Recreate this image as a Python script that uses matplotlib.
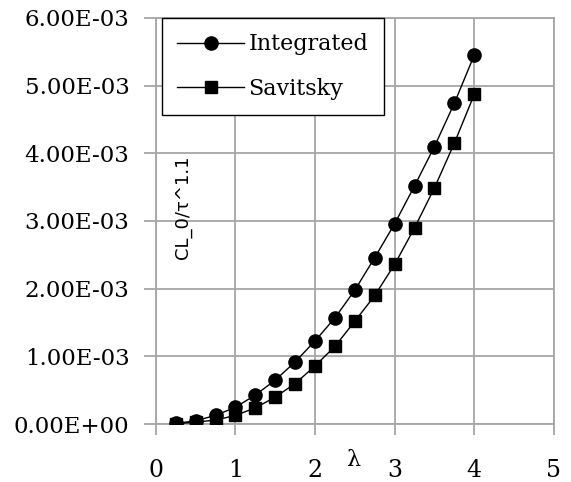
import numpy as np
import matplotlib
matplotlib.use("Agg")
import matplotlib.pyplot as plt

# ── Data ──
lam = [0.25, 0.5, 0.75, 1.0, 1.25, 1.5, 1.75, 2.0,
       2.25, 2.5, 2.75, 3.0, 3.25, 3.5, 3.75, 4.0]
integrated = [0.01e-3, 0.05e-3, 0.13e-3, 0.25e-3, 0.43e-3, 0.65e-3, 0.92e-3, 1.23e-3,
              1.57e-3, 1.98e-3, 2.46e-3, 2.96e-3, 3.52e-3, 4.10e-3, 4.74e-3, 5.45e-3]
savitsky = [0.005e-3, 0.03e-3, 0.06e-3, 0.13e-3, 0.24e-3, 0.40e-3, 0.60e-3, 0.86e-3,
            1.15e-3, 1.52e-3, 1.90e-3, 2.36e-3, 2.90e-3, 3.49e-3, 4.15e-3, 4.87e-3]

xticks = [0, 1, 2, 3, 4, 5]
yticks = [0, 1e-3, 2e-3, 3e-3, 4e-3, 5e-3, 6e-3]
ytick_labels = ["0.00E+00", "1.00E-03", "2.00E-03", "3.00E-03",
                "4.00E-03", "5.00E-03", "6.00E-03"]

GRID = "#a6a6a6"
SERIF = ["DejaVu Serif"]

# ── Plot ──
fig = plt.figure(figsize=(5.71, 4.82), dpi=100)
ax = fig.add_axes([0.273, 0.120, 0.697, 0.843])

ax.plot(lam, integrated, "o-", color="black", linewidth=1.0, markersize=9.5,
        label="Integrated", zorder=3)
ax.plot(lam, savitsky, "s-", color="black", linewidth=1.0, markersize=9,
        label="Savitsky", zorder=3)

ax.set_xlim(0, 5)
ax.set_ylim(0, 6e-3)
ax.set_xticks(xticks)
ax.set_yticks(yticks)
ax.set_yticklabels(ytick_labels)
ax.grid(True, color=GRID, linewidth=1.3)
ax.set_axisbelow(True)
for s in ax.spines.values():
    s.set_color(GRID)
    s.set_linewidth(1.3)

ax.tick_params(axis="y", direction="out", length=9, width=1.3, color=GRID,
               labelsize=16.5, pad=10)
ax.tick_params(axis="x", direction="out", length=8, width=1.3, color=GRID,
               labelsize=17, pad=17)
for lbl in ax.get_xticklabels() + ax.get_yticklabels():
    lbl.set_family(SERIF)

# y quantity label sits inside the plot area
ax.text(0.068, 0.534, "CL_0/\u03c4^1.1", transform=ax.transAxes, rotation=90,
        ha="center", va="center", fontsize=13, family="DejaVu Sans")
ax.set_xlabel("\u03bb", fontsize=16, family=SERIF)
ax.xaxis.set_label_coords(0.497, -0.06)

leg = ax.legend(loc="upper left", bbox_to_anchor=(0.015, 1.0), borderaxespad=0,
                prop={"family": SERIF, "size": 16}, fancybox=False,
                edgecolor="black", framealpha=1, labelspacing=1.0,
                handlelength=3.0, handletextpad=0.2, borderpad=0.7)
leg.get_frame().set_linewidth(1.0)

fig.savefig("out.png", dpi=100)
